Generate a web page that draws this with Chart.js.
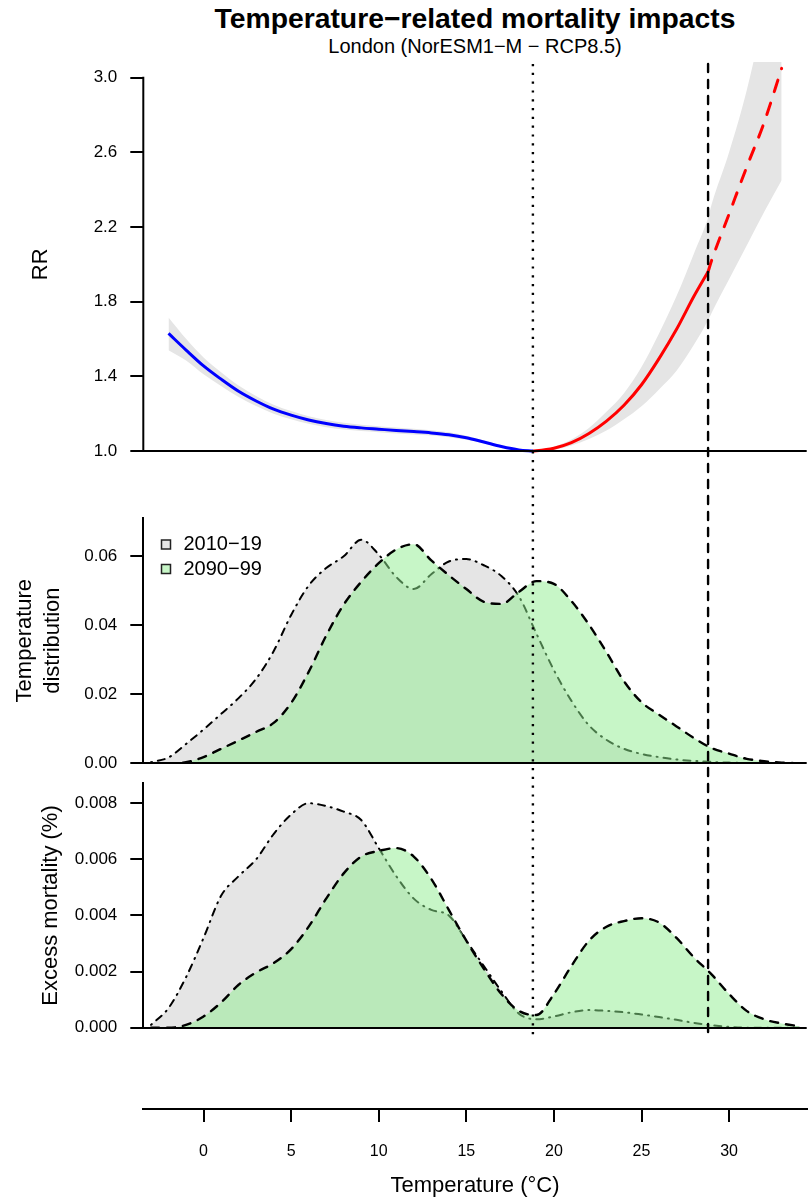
<!DOCTYPE html>
<html>
<head>
<meta charset="utf-8">
<title>Temperature-related mortality impacts</title>
<script src="https://cdn.jsdelivr.net/npm/chart.js@4.4.1/dist/chart.umd.min.js"></script>
<style>
  body { margin: 0; background: #fff; }
  #page { position: relative; width: 812px; height: 1200px; background: #fff; font-family: 'Liberation Sans', Arial, sans-serif; color: #000; }
  #page canvas { position: absolute; left: 0; }
  .head { position: absolute; left: 143px; width: 664px; text-align: center; white-space: nowrap; }
  #title { top: 4px; font-size: 28.3px; line-height: 28px; font-weight: bold; }
  #subtitle { top: 36px; font-size: 20px; line-height: 20px; }
</style>
</head>
<body>
<div id="page">
  <div id="title" class="head">Temperature−related mortality impacts</div>
  <div id="subtitle" class="head">London (NorESM1−M − RCP8.5)</div>
  <canvas id="rrChart" width="812" height="470" style="top:0"></canvas>
  <canvas id="distChart" width="812" height="305" style="top:470px"></canvas>
  <canvas id="excessChart" width="812" height="265" style="top:775px"></canvas>
  <canvas id="axisChart" width="812" height="160" style="top:1040px"></canvas>
</div>
<script>
// exposure-response curve, relative risk by temperature
const rrTemp = [-2, -1, 0, 1, 2, 3, 4, 5, 6, 7, 8, 9, 10, 11, 12, 13, 14, 15, 16, 17, 18, 18.8,
  19, 20, 21, 22, 23, 24, 25, 26, 27, 28, 28.8, 29, 30, 31, 32, 33];
const rr = [1.63, 1.541, 1.456, 1.385, 1.32, 1.268, 1.224, 1.192, 1.166, 1.147, 1.133, 1.124, 1.117,
  1.11, 1.104, 1.097, 1.087, 1.071, 1.048, 1.024, 1.006, 1.0,
  1.001, 1.015, 1.045, 1.094, 1.16, 1.245, 1.355, 1.495, 1.652, 1.83, 1.96, 2.02, 2.27, 2.52, 2.76, 3.05];
const rrLow = [1.54, 1.485, 1.411, 1.348, 1.289, 1.241, 1.2, 1.17, 1.146, 1.128, 1.115, 1.107, 1.101,
  1.094, 1.089, 1.083, 1.074, 1.06, 1.04, 1.019, 1.004, 1.0,
  1.0, 1.007, 1.03, 1.065, 1.11, 1.17, 1.24, 1.33, 1.43, 1.57, 1.7, 1.74, 1.92, 2.1, 2.28, 2.45];
const rrHigh = [1.715, 1.601, 1.501, 1.422, 1.351, 1.295, 1.248, 1.214, 1.186, 1.166, 1.151, 1.141, 1.133,
  1.126, 1.119, 1.111, 1.1, 1.082, 1.056, 1.029, 1.008, 1.0,
  1.003, 1.023, 1.062, 1.123, 1.21, 1.31, 1.45, 1.63, 1.83, 2.06, 2.25, 2.32, 2.6, 2.93, 3.35, 3.85];
const mmt = 18.8;     // minimum mortality temperature
const cutoff = 28.8;  // beyond this the curve is extrapolated

// temperature distribution and excess mortality per decade
const periods = ['2010−19', '2090−99'];
const distTemp = [-3, -2, -1, 0, 1, 2, 3, 4, 5, 6, 7, 8, 9, 10, 11, 12, 13, 14, 15, 16, 17, 18,
  19, 20, 21, 22, 23, 24, 25, 26, 27, 28, 29, 30, 31, 32, 33, 34];
const dist2010 = [0.0003, 0.0017, 0.0056, 0.0098, 0.0143, 0.0189, 0.0245, 0.0325, 0.043, 0.0515, 0.0566,
  0.06, 0.0648, 0.0605, 0.054, 0.0505, 0.0548, 0.0585, 0.0592, 0.0574, 0.0543, 0.0484,
  0.0376, 0.027, 0.0181, 0.011, 0.0068, 0.0042, 0.0027, 0.0018, 0.0011, 0.0007, 0.0004, 0.0002, 0.0001, 0, 0, 0];
const dist2090 = [0, 0, 0.0003, 0.0018, 0.0042, 0.0066, 0.0091, 0.0117, 0.0175, 0.0265, 0.037,
  0.046, 0.0526, 0.058, 0.062, 0.0635, 0.0588, 0.0545, 0.0505, 0.0468, 0.0462, 0.0497,
  0.0528, 0.052, 0.047, 0.0402, 0.0322, 0.0238, 0.0177, 0.0141, 0.0107, 0.0073, 0.0044, 0.0028, 0.0013, 0.0006, 0.0002, 0];
const excess2010 = [0.0001, 0.0007, 0.0018, 0.0032, 0.0047, 0.0054, 0.006, 0.0069, 0.0076, 0.008, 0.0079,
  0.0077, 0.0074, 0.0064, 0.0054, 0.0046, 0.0042, 0.004, 0.0031, 0.0022, 0.0013, 0.0005,
  0.0003, 0.0004, 0.00055, 0.00063, 0.0006, 0.00055, 0.00047, 0.00038, 0.00028, 0.00017, 0.00009, 0.00003, 0, 0, 0, 0];
const excess2090 = [0, 0, 0.0001, 0.0004, 0.0009, 0.00153, 0.00197, 0.0023, 0.0028, 0.0036, 0.0046,
  0.0055, 0.0061, 0.0063, 0.0064, 0.0061, 0.0053, 0.0042, 0.0031, 0.0021, 0.0012, 0.0006,
  0.00045, 0.0012, 0.0022, 0.0031, 0.0036, 0.0038, 0.0039, 0.00375, 0.0032, 0.0025, 0.0019, 0.0012, 0.0006, 0.0003, 0.00015, 0.00005];

const xTicks = [0, 5, 10, 15, 20, 25, 30];
const rrTicks = [1.0, 1.4, 1.8, 2.2, 2.6, 3.0];
const distTicks = [0, 0.02, 0.04, 0.06];
const excessTicks = [0, 0.002, 0.004, 0.006, 0.008];

Chart.defaults.font.family = "'Liberation Sans', Arial, Helvetica, sans-serif";
Chart.defaults.color = '#000';

const xMin = -3.44, xMax = 34.43;
const axisWidth = 143.3, padRight = 5.3;
const lineTop = 64; // page y where the reference lines start
const greyFill = 'rgba(190,190,190,0.4)';
const greenFill = 'rgba(144,238,144,0.5)';

function pts(xs, ys) {
  return xs.map((x, i) => ({ x: x, y: ys[i] }));
}
function part(test) {
  return rrTemp.map((t, i) => ({ x: t, y: rr[i] })).filter(p => test(p.x));
}

// dotted line at the MMT, dashed line at the cutoff, through all panels
const refLines = {
  id: 'refLines',
  afterDatasetsDraw(chart, args, opts) {
    const ctx = chart.ctx;
    const xs = chart.scales.x;
    const styles = [[mmt, [2.2, 6.6], 'butt'], [cutoff, [8, 8], 'round']];
    ctx.save();
    ctx.strokeStyle = '#000';
    ctx.lineWidth = 2.4;
    styles.forEach(([v, dash, cap]) => {
      const x = xs.getPixelForValue(v);
      ctx.setLineDash(dash);
      ctx.lineCap = cap;
      ctx.lineDashOffset = opts.pageTop + opts.from - lineTop;
      ctx.beginPath();
      ctx.moveTo(x, opts.from);
      ctx.lineTo(x, opts.to);
      ctx.stroke();
    });
    ctx.restore();
  }
};

// y axis line of the RR panel only spans the ticks
const rrAxisLine = {
  id: 'rrAxisLine',
  afterDraw(chart) {
    const ctx = chart.ctx;
    const ys = chart.scales.y;
    const x = chart.chartArea.left;
    ctx.save();
    ctx.strokeStyle = '#000';
    ctx.lineWidth = 2;
    ctx.beginPath();
    ctx.moveTo(x, ys.getPixelForValue(rrTicks[rrTicks.length - 1]) - 1);
    ctx.lineTo(x, ys.getPixelForValue(rrTicks[0]) + 1);
    ctx.stroke();
    ctx.restore();
  }
};

const periodLegend = {
  id: 'periodLegend',
  afterDraw(chart, args, opts) {
    const ctx = chart.ctx;
    const fills = [greyFill, greenFill];
    ctx.save();
    periods.forEach((p, i) => {
      const y = opts.y + i * opts.gap;
      ctx.fillStyle = '#fff';
      ctx.fillRect(opts.x, y - 4.5, 9, 9);
      ctx.fillStyle = fills[i];
      ctx.fillRect(opts.x, y - 4.5, 9, 9);
      ctx.strokeStyle = '#222';
      ctx.lineWidth = 1.5;
      ctx.strokeRect(opts.x, y - 4.5, 9, 9);
      ctx.fillStyle = '#000';
      ctx.font = "20px 'Liberation Sans', Arial, sans-serif";
      ctx.textBaseline = 'middle';
      ctx.fillText(p, opts.x + 22, y);
    });
    ctx.restore();
  }
};

function yScale(o) {
  return {
    type: 'linear',
    min: o.min,
    max: o.max,
    // fixed axis width, and no extra room reserved for the end labels
    afterFit: s => { s.width = axisWidth; s.paddingTop = 0; s.paddingBottom = 0; },
    afterBuildTicks: s => { s.ticks = o.ticks.map(v => ({ value: v })); },
    ticks: { font: { size: 17 }, padding: 13, callback: v => v.toFixed(o.digits) },
    grid: {
      z: 1,
      color: c => (c.tick && c.tick.value === o.base ? '#000' : 'rgba(0,0,0,0)'),
      lineWidth: 2,
      tickColor: '#000',
      tickWidth: 2,
      tickLength: 13
    },
    border: { display: o.border, color: '#000', width: 2, z: 1 },
    title: {
      display: true,
      text: o.title,
      font: { size: 22, lineHeight: 1.27 },
      padding: { top: o.titlePad, bottom: 0 }
    }
  };
}

const hiddenX = { type: 'linear', min: xMin, max: xMax, display: false };

function baseOptions(padTop, padBottom, y, refOpts) {
  return {
    responsive: false,
    animation: false,
    events: [],
    devicePixelRatio: 1,
    layout: { padding: { left: 0, right: padRight, top: padTop, bottom: padBottom } },
    elements: { point: { radius: 0 }, line: { cubicInterpolationMode: 'monotone' } },
    plugins: { legend: { display: false }, tooltip: { enabled: false }, refLines: refOpts },
    scales: { x: hiddenX, y: y }
  };
}

// panel 1: relative risk
new Chart(document.getElementById('rrChart'), {
  type: 'line',
  data: {
    datasets: [
      { data: pts(rrTemp, rrHigh), fill: 1, backgroundColor: '#e5e5e5', borderColor: 'rgba(0,0,0,0)', borderWidth: 0, order: 2 },
      { data: pts(rrTemp, rrLow), fill: false, borderColor: 'rgba(0,0,0,0)', borderWidth: 0, order: 2 },
      { data: part(t => t <= mmt), borderColor: '#0000ff', borderWidth: 3, fill: false, order: 1 },
      { data: part(t => t >= mmt && t <= cutoff), borderColor: '#ff0000', borderWidth: 3, fill: false, order: 1 },
      { data: part(t => t >= cutoff), borderColor: '#ff0000', borderWidth: 3, borderDash: [12, 12], borderCapStyle: 'round', fill: false, order: 1 }
    ]
  },
  options: baseOptions(62, 3.3,
    yScale({ min: 0.916, max: 3.084, ticks: rrTicks, digits: 1, base: 1, border: false, title: 'RR', titlePad: 27 }),
    { pageTop: 0, from: lineTop, to: 470 }),
  plugins: [refLines, rrAxisLine]
});

// panel 2: temperature distribution
const distOpts = baseOptions(48, 11.7,
  yScale({ min: 0, max: 0.0711, ticks: distTicks, digits: 2, base: 0, border: true, title: ['Temperature', 'distribution'], titlePad: 11 }),
  { pageTop: 470, from: 0, to: 305 });
distOpts.plugins.periodLegend = { x: 161.5, y: 74.5, gap: 24.5 };
new Chart(document.getElementById('distChart'), {
  type: 'line',
  data: {
    datasets: [
      { label: periods[1], data: pts(distTemp, dist2090), fill: 'origin', backgroundColor: greenFill, borderColor: '#000', borderWidth: 2.4, borderDash: [8, 8], borderCapStyle: 'round', order: 1 },
      { label: periods[0], data: pts(distTemp, dist2010), fill: 'origin', backgroundColor: greyFill, borderColor: '#000', borderWidth: 2, borderDash: [1, 6, 7, 6], borderCapStyle: 'round', order: 2 }
    ]
  },
  options: distOpts,
  plugins: [refLines, periodLegend]
});

// panel 3: excess mortality
new Chart(document.getElementById('excessChart'), {
  type: 'line',
  data: {
    datasets: [
      { label: periods[1], data: pts(distTemp, excess2090), fill: 'origin', backgroundColor: greenFill, borderColor: '#000', borderWidth: 2.4, borderDash: [8, 8], borderCapStyle: 'round', order: 1 },
      { label: periods[0], data: pts(distTemp, excess2010), fill: 'origin', backgroundColor: greyFill, borderColor: '#000', borderWidth: 2, borderDash: [1, 6, 7, 6], borderCapStyle: 'round', order: 2 }
    ]
  },
  options: baseOptions(8.3, 12.3,
    yScale({ min: 0, max: 0.00871, ticks: excessTicks, digits: 3, base: 0, border: true, title: 'Excess mortality (%)', titlePad: 37 }),
    { pageTop: 775, from: 0, to: 265 }),
  plugins: [refLines]
});

// shared temperature axis at the bottom
new Chart(document.getElementById('axisChart'), {
  type: 'line',
  data: { datasets: [] },
  options: {
    responsive: false,
    animation: false,
    events: [],
    devicePixelRatio: 1,
    layout: { padding: { left: axisWidth, right: padRight, top: 0, bottom: 0 } },
    plugins: { legend: { display: false }, tooltip: { enabled: false } },
    scales: {
      x: {
        type: 'linear',
        min: xMin,
        max: xMax,
        afterFit: s => { s.height = 91; s.paddingLeft = 0; s.paddingRight = 0; },
        afterBuildTicks: s => { s.ticks = xTicks.map(v => ({ value: v })); },
        ticks: { font: { size: 16 }, padding: 20, maxRotation: 0, autoSkip: false },
        grid: { drawOnChartArea: false, color: '#000', lineWidth: 2, tickLength: 13 },
        border: { display: true, color: '#000', width: 2 },
        title: { display: true, text: 'Temperature (°C)', font: { size: 22 }, padding: { top: 0, bottom: 1 } }
      },
      y: { display: false, min: 0, max: 1 }
    }
  }
});
</script>
</body>
</html>
